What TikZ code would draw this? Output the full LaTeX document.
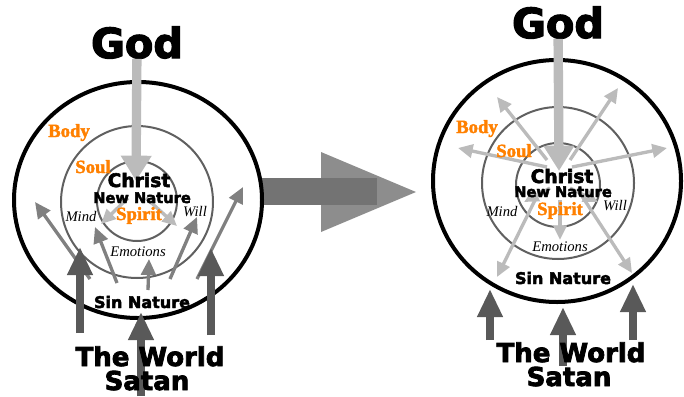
\documentclass[tikz,border=0pt]{standalone}
\usepackage{fontspec}
\usetikzlibrary{arrows.meta}
\newfontfamily\heavyfont{DejaVu Sans}[BoldFeatures={FakeBold=3}]
\newfontfamily\posterfont{Liberation Serif}[BoldFeatures={FakeBold=2}]
\definecolor{lightarrow}{HTML}{BBBBBB}
\definecolor{midarrow}{HTML}{808080}
\definecolor{darkarrow}{HTML}{595959}
\definecolor{ring}{HTML}{606060}
\definecolor{orangelabel}{HTML}{FF8000}
\begin{document}
\begin{tikzpicture}[x=0.75pt,y=-0.75pt,
  outerring/.style={line width=3pt},
  innerring/.style={line width=1.5pt,ring},
  godarrow/.style={lightarrow,line width=7pt,-{Triangle[width=22pt,length=19pt]}},
  lightray/.style={lightarrow,line width=2.5pt,-{Triangle[width=10pt,length=11pt]}},
  midray/.style={midarrow,line width=2.5pt,-{Triangle[width=11pt,length=12pt]}},
  worldarrow/.style={darkarrow,line width=6pt,-{Triangle[width=18pt,length=21pt]}},
  lbl/.style={anchor=base,inner sep=0pt},
  godtext/.style={lbl,font=\heavyfont\bfseries\fontsize{31}{31}\selectfont},
  bigtext/.style={lbl,font=\heavyfont\bfseries\fontsize{19.5}{20}\selectfont},
  christtext/.style={lbl,font=\heavyfont\bfseries\fontsize{14}{14}\selectfont},
  natext/.style={lbl,font=\heavyfont\bfseries\fontsize{11}{11}\selectfont},
  sintext/.style={lbl,font=\heavyfont\bfseries\fontsize{12}{12}\selectfont},
  parttext/.style={lbl,orangelabel,font=\posterfont\bfseries\fontsize{14}{14}\selectfont},
  facultytext/.style={lbl,font=\posterfont\itshape\fontsize{11}{11}\selectfont}]
\useasboundingbox (0,0) rectangle (684,396);

% grosser Pfeil in der Mitte
\fill[midarrow!90] (321,152) -- (416,192) -- (321,232) -- cycle;
\fill[midarrow!90!black] (262,178) rectangle (377,205);

% linkes Bild
\draw[outerring] (138,200) ellipse (124 and 118);
\draw[innerring] (137,202) circle (76);
\draw[innerring] (137,201) circle (40);
\node[godtext] (godL) at (137,58) {God};
\coordinate (godtipL) at (136,181);
\coordinate (rayL1) at (101,224);
\coordinate (rayL2) at (177,226);
\draw[lightray] (128,198) -- (rayL1);
\draw[lightray] (146,198) -- (rayL2);
\draw[midray] (90,279) -- (35,202);
\draw[midray] (117,283) -- (95,227);
\draw[midray] (148,290) -- (149,259);
\draw[midray] (170,279) -- (197,217);
\draw[midray] (197,279) -- (243,187);
\draw[godarrow] (godL) -- (godtipL);
\draw[worldarrow] (80,333) -- (80,247);
\draw[worldarrow] (141,396) -- (141,312);
\draw[worldarrow] (211,335) -- (211,248);
\node[parttext] (bodyL) at (69,137) {Body};
\node[parttext] (soulL) at (93,173) {Soul};
\node[christtext] (christL) at (139,187) {Christ};
\node[natext] (newL) at (142,203) {New Nature};
\node[facultytext] (mindL) at (81,221) {Mind};
\node[parttext] (spiritL) at (139,220) {Spirit};
\node[facultytext] (willL) at (195,216) {Will};
\node[facultytext] (emotL) at (138,256) {Emotions};
\node[sintext] (sinL) at (142,308) {Sin Nature};
\node[bigtext] (worldL) at (150,366) {The World};
\node[bigtext] (satanL) at (147,390) {Satan};

% rechtes Bild
\draw[outerring] (557,181) ellipse (124 and 121);
\draw[innerring] (558,183) circle (76);
\draw[innerring] (558,185) circle (42);
\node[godtext] (godR) at (558,38) {God};
\coordinate (godtipR) at (559,171);
\draw[lightray] (547,160) -- (497,97);
\draw[lightray] (570,160) -- (618,88);
\draw[lightray] (547,167) -- (458,148);
\draw[lightray] (572,167) -- (667,148);
\draw[lightray] (540,190) -- (497,277);
\draw[lightray] (578,190) -- (632,273);
\draw[lightray] (560,200) -- (560,240);
\draw[lightray] (550,188) -- (524,202);
\draw[lightray] (570,188) -- (598,202);
\draw[godarrow] (godR) -- (godtipR);
\draw[worldarrow] (490,340) -- (490,289);
\draw[worldarrow] (563,366) -- (563,307);
\draw[worldarrow] (633,340) -- (633,284);
\node[parttext] (bodyR) at (477,133) {Body};
\node[parttext] (soulR) at (514,157) {Soul};
\node[christtext] (christR) at (562,183) {Christ};
\node[natext] (newR) at (563,197) {New Nature};
\node[facultytext] (mindR) at (502,216) {Mind};
\node[parttext] (spiritR) at (560,215) {Spirit};
\node[facultytext] (willR) at (615,210) {Will};
\node[facultytext] (emotR) at (560,251) {Emotions};
\node[sintext] (sinR) at (563,284) {Sin Nature};
\node[bigtext] (worldR) at (571,362) {The World};
\node[bigtext] (satanR) at (569,386) {Satan};
\end{tikzpicture}
\end{document}
